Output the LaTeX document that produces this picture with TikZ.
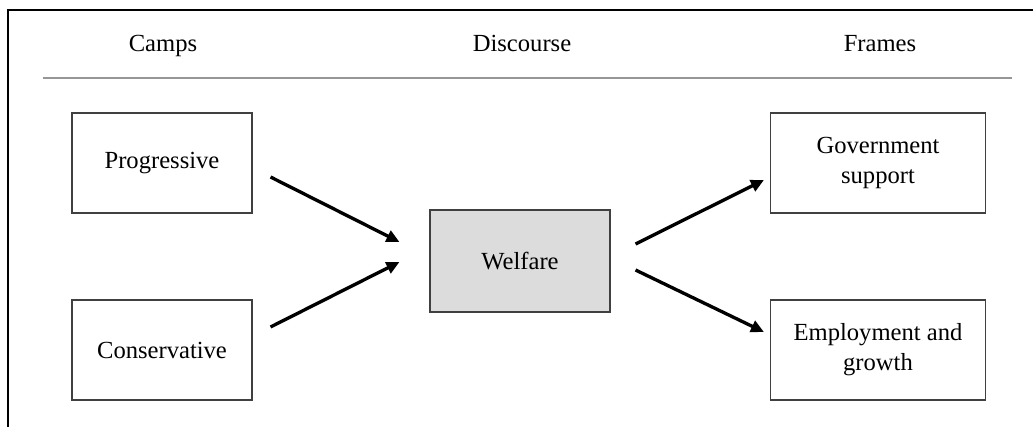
\documentclass[tikz,border=0pt]{standalone}
\usepackage{fontspec}
\setmainfont{Liberation Serif}
\usepackage{tikz}
\usetikzlibrary{arrows.meta,positioning,calc}
\usepackage{xcolor}
\definecolor{boxgrey}{RGB}{64,64,64}
\definecolor{rulegrey}{RGB}{150,150,150}
\definecolor{welfgrey}{RGB}{220,220,220}

\begin{document}
\begin{tikzpicture}[
    x=0.2mm, y=-0.2mm,
    box/.style={draw=boxgrey, line width=0.6pt, minimum width=3.6cm,
                minimum height=2cm, align=center, inner sep=0pt,
                font=\fontsize{14}{17}\selectfont},
    widebox/.style={box, minimum width=4.3cm},
    head/.style={anchor=base, font=\fontsize{14}{17}\selectfont},
    arr/.style={-{Triangle[length=2.6mm,width=2.4mm]}, line width=1.9pt, black}
]
    \useasboundingbox (0,0) rectangle (1033,427);
    \draw[line width=1pt] (8,430) -- (8,10) -- (1036,10);

    % column heads
    \node[head] (hcamps) at (163,52) {Camps};
    \node[head] (hdisc) at (522,52) {Discourse};
    \node[head] (hframes) at (880,52) {Frames};
    \draw[rulegrey, line width=0.6pt] (43,78) -- (1012,78);

    % boxes
    \node[box] (prog) at (162,163) {Progressive};
    \node[box] (cons) at (162,350) {Conservative};
    \node[box, fill=welfgrey, minimum height=2.04cm] (welf) at (520,261) {Welfare};
    \node[widebox] (gov) at (878,163) {Government\\support};
    \node[widebox] (emp) at (878,350) {Employment and\\growth};

    \draw[arr] ([shift={(18,14)}]prog.east) -- ([shift={(-30,-19)}]welf.west);
    \draw[arr] ([shift={(18,-23)}]cons.east) -- ([shift={(-30,1)}]welf.west);
    \draw[arr] ([shift={(25,-17)}]welf.east) -- ([shift={(-6,17)}]gov.west);
    \draw[arr] ([shift={(25,9)}]welf.east) -- ([shift={(-6,-18)}]emp.west);
\end{tikzpicture}
\end{document}
